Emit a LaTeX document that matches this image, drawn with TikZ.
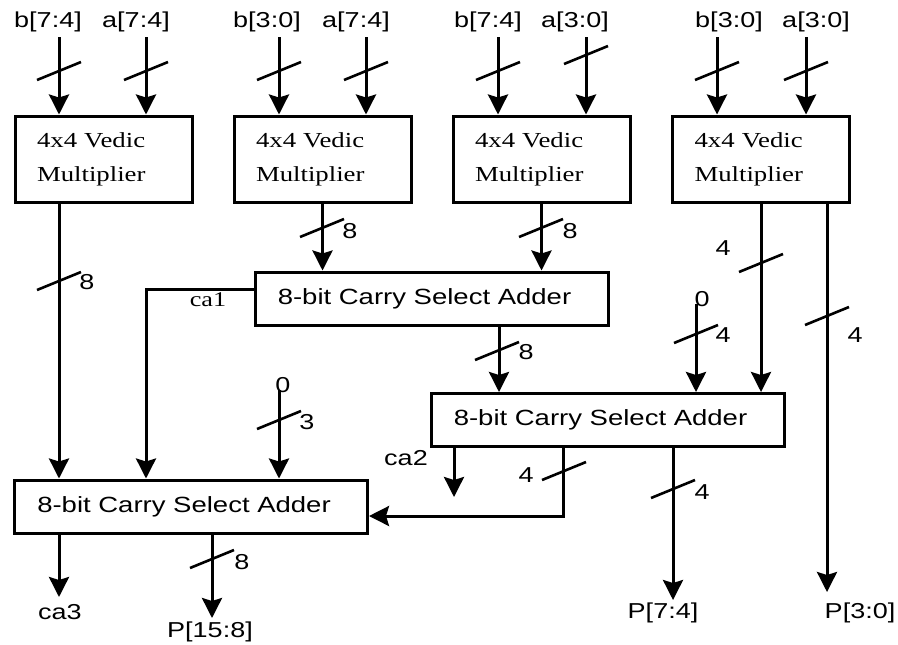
\documentclass[tikz,border=0pt]{standalone}
\usepackage{fontspec}
\setmainfont{Liberation Serif}[FakeStretch=1.25]
\setsansfont{Liberation Sans}[FakeStretch=1.25]
\usetikzlibrary{arrows.meta,calc}

\begin{document}
\begin{tikzpicture}[
  x=0.5pt, y=-0.5pt,
  font=\sffamily\fontsize{10.8}{12}\selectfont,
  wire/.style={line width=1.5pt},
  arr/.style={wire, -{Stealth[length=10pt,width=10pt,inset=1.5pt]}},
  tick/.style={line width=1.3pt},
  % 4x4 multipliers: serif text, left aligned
  mult/.style={draw, line width=1.5pt, minimum height=43pt, text width=66.5pt,
    inner xsep=11pt, align=left, font=\rmfamily\fontsize{10.7}{17}\selectfont},
  csa/.style={draw, line width=1.5pt, minimum height=26.5pt, minimum width=176.5pt,
    font=\sffamily\fontsize{11}{13}\selectfont},
  lbl/.style={inner sep=1pt},
  bus/.pic={\draw[tick] (-22,9) -- (22,-9);},
]
\useasboundingbox (0,0) rectangle (898,644);

% --- Blocks
\node[mult] (m1) at (103.5,159) {4x4 Vedic\\Multiplier};
\node[mult] (m2) at (322.5,159) {4x4 Vedic\\Multiplier};
\node[mult] (m3) at (541.5,159) {4x4 Vedic\\Multiplier};
\node[mult] (m4) at (761,159)   {4x4 Vedic\\Multiplier};
\node[csa] (a1) at (431.5,298.5) {8-bit Carry Select Adder\hspace*{7pt}};
\node[csa] (a2) at (607.5,420)   {8-bit Carry Select Adder\hspace*{7pt}};
\node[csa] (a3) at (191,506.5)   {8-bit Carry Select Adder\hspace*{7pt}};

% --- Operand inputs
\foreach \lx/\ax/\sy/\blk/\txt in {48/59/71/m1/b[7:4], 136/146/71/m1/a[7:4],
    267/279/71/m2/b[3:0], 356/366/71/m2/a[7:4], 488/498/71/m3/b[7:4],
    575/586/55/m3/a[3:0], 729/717/71/m4/b[3:0], 816/806/71/m4/a[3:0]} {
  \node[lbl] (in\ax) at (\lx,22) {\txt};
  \coordinate (s\ax) at (\ax,37);
  \draw[arr] (s\ax) -- (s\ax |- \blk.north);
  \pic at (\ax,\sy) {bus};
}

% --- Multipliers to adders
\draw[arr] (s59 |- m1.south) -- (s59 |- a3.north);
\pic at (59,281) {bus};
\node[lbl] (w1) at (87,282) {8};

\draw[arr] (m2.south) -- (m2.south |- a1.north);
\pic at (322,228) {bus};
\node[lbl] (w2) at (350,231) {8};

\draw[arr] (m3.south) -- (m3.south |- a1.north);
\pic at (541,228) {bus};
\node[lbl] (w3) at (570,231) {8};

\draw[arr] (m4.south) -- (m4.south |- a2.north);
\pic at (761,263) {bus};
\node[lbl] (w4) at (723,248) {4};

\node[lbl] (p30) at (860,613) {P[3:0]};
\coordinate (p30e) at (827,592);
\draw[arr] (p30e |- m4.south) -- (p30e);
\pic at (827,316) {bus};
\node[lbl] (w5) at (855,335) {4};

% --- Adder chain
\coordinate (x1) at (499,0);
\draw[arr] (a1.south -| x1) -- (a2.north -| x1);
\pic at (497,351) {bus};
\node[lbl] (w6) at (526,352) {8};

\node[lbl] (z2) at (702,299) {0};
\coordinate (z2s) at (696,304);
\draw[arr] (z2s) -- (z2s |- a2.north);
\pic at (696,334) {bus};
\node[lbl] (w7) at (723,335) {4};

\node[lbl] (z3) at (283,385) {0};
\coordinate (z3s) at (279,390);
\draw[arr] (z3s) -- (z3s |- a3.north);
\pic at (279,420) {bus};
\node[lbl] (w8) at (307,422) {3};

% carries
\coordinate (c1x) at (146,0);
\draw[arr] ($(a1.west)+(0,-9.5)$) -| (c1x |- a3.north);
\node[lbl, font=\rmfamily\fontsize{10.5}{12}\selectfont] (ca1) at (208,300) {ca1};

\coordinate (c2e) at (454,497);
\draw[arr] (c2e |- a2.south) -- (c2e);
\node[lbl] (ca2) at (406,458) {ca2};

\coordinate (x4) at (563,0);
\draw[arr] (x4 |- a2.south) |- ($(a3.east)+(0,9.5)$);
\pic at (564,471) {bus};
\node[lbl] (w9) at (526,475) {4};

% --- Outputs
\node[lbl] (p74) at (663,613) {P[7:4]};
\coordinate (p74e) at (673,600);
\draw[arr] (p74e |- a2.south) -- (p74e);
\pic at (673,489) {bus};
\node[lbl] (w10) at (702,492) {4};

\node[lbl] (ca3) at (60,612) {ca3};
\coordinate (c3e) at (59,597);
\draw[arr] (c3e |- a3.south) -- (c3e);

\node[lbl] (p158) at (210,632) {P[15:8]};
\coordinate (p158e) at (212,618);
\draw[arr] (p158e |- a3.south) -- (p158e);
\pic at (212,559) {bus};
\node[lbl] (w11) at (242,562) {8};
\end{tikzpicture}
\end{document}
